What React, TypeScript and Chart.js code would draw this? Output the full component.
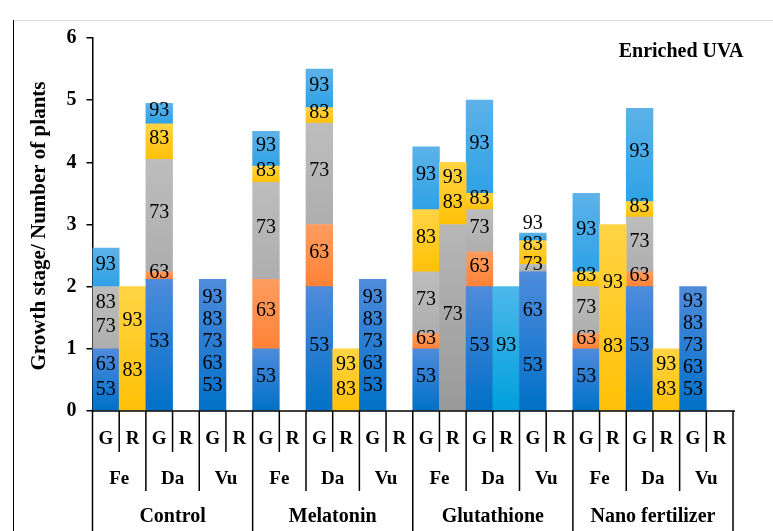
import React, { useEffect, useRef } from "react";
import { Chart, registerables } from "chart.js";
Chart.register(...registerables);

const treatments = ["Control", "Melatonin", "Glutathione", "Nano fertilizer"];
const cultivars = ["Fe", "Da", "Vu"];
const organs = ["G", "R"];
const categories = treatments.flatMap((t) => cultivars.flatMap((c) => organs.map((o) => `${t} ${c} ${o}`)));
const yTickMax = 6;
const yTitle = "Growth stage/ Number of plants";
const chartNote = "Enriched UVA";

// Stacked layers (bottom → top). Each layer: heights, colour key, stage labels (bottom → top).
const layer1Values = [1.0, 2.0, 2.12, 0, 2.12, 0, 1.0, 0, 2.0, 1.0, 2.12, 0, 1.0, 3.0, 2.0, 2.0, 2.24, 0, 1.0, 3.0, 2.0, 1.0, 2.0, 0];
const layer1Colors = ["blue", "yellow", "blue", "", "blue", "", "blue", "", "blue", "yellow", "blue", "", "blue", "dgray", "blue", "cyan", "blue", "", "blue", "yellow", "blue", "yellow", "blue", ""];
const layer1Labels = [[53, 63], [83, 93], [53], [], [53, 63, 73, 83, 93], [], [53], [], [53], [83, 93], [53, 63, 73, 83, 93], [], [53], [73], [53], [93], [53, 63], [], [53], [83, 93], [53], [83, 93], [53, 63, 73, 83, 93], []];

const layer2Values = [1.0, 0, 0.12, 0, 0, 0, 1.12, 0, 1.0, 0, 0, 0, 0.24, 1.0, 0.56, 0, 0.12, 0, 0.24, 0, 0.24, 0, 0, 0];
const layer2Colors = ["gray", "", "orange", "", "", "", "orange", "", "orange", "", "", "", "orange", "yellow", "orange", "", "gray", "", "orange", "", "orange", "", "", ""];
const layer2Labels = [[73, 83], [], [63], [], [], [], [63], [], [63], [], [], [], [63], [83, 93], [63], [], [73], [], [63], [], [63], [], [], []];

const layer3Values = [0.62, 0, 1.81, 0, 0, 0, 1.56, 0, 1.63, 0, 0, 0, 1.0, 0, 0.68, 0, 0.38, 0, 0.76, 0, 0.88, 0, 0, 0];
const layer3Colors = ["lblue", "", "gray", "", "", "", "gray", "", "gray", "", "", "", "gray", "", "gray", "", "yellow", "", "gray", "", "gray", "", "", ""];
const layer3Labels = [[93], [], [73], [], [], [], [73], [], [73], [], [], [], [73], [], [73], [], [83], [], [73], [], [73], [], [], []];

const layer4Values = [0, 0, 0.57, 0, 0, 0, 0.26, 0, 0.25, 0, 0, 0, 1.0, 0, 0.26, 0, 0.12, 0, 0.24, 0, 0.25, 0, 0, 0];
const layer4Colors = ["", "", "yellow", "", "", "", "yellow", "", "yellow", "", "", "", "yellow", "", "yellow", "", "lblue", "", "yellow", "", "yellow", "", "", ""];
const layer4Labels = [[], [], [83], [], [], [], [83], [], [83], [], [], [], [83], [], [83], [], [93], [], [83], [], [83], [], [], []];

const layer5Values = [0, 0, 0.33, 0, 0, 0, 0.56, 0, 0.62, 0, 0, 0, 1.01, 0, 1.5, 0, 0, 0, 1.26, 0, 1.5, 0, 0, 0];
const layer5Colors = ["", "", "lblue", "", "", "", "lblue", "", "lblue", "", "", "", "lblue", "", "lblue", "", "", "", "lblue", "", "lblue", "", "", ""];
const layer5Labels = [[], [], [93], [], [], [], [93], [], [93], [], [], [], [93], [], [93], [], [], [], [93], [], [93], [], [], []];

const layerValues = [layer1Values, layer2Values, layer3Values, layer4Values, layer5Values];
const layerColors = [layer1Colors, layer2Colors, layer3Colors, layer4Colors, layer5Colors];
const layerLabels = [layer1Labels, layer2Labels, layer3Labels, layer4Labels, layer5Labels];

const palette: Record<string, [string, string]> = {
  blue: ["#4F8BDB", "#0070C8"],
  orange: ["#FF9C60", "#FF8236"],
  gray: ["#BDBDBD", "#AEAEAE"],
  dgray: ["#B7B7B7", "#999999"],
  yellow: ["#FFD444", "#FFC107"],
  lblue: ["#5DB2E8", "#2EA2E6"],
  cyan: ["#4DB8EA", "#009FDD"],
};

const SERIF = '"Liberation Serif", "Times New Roman", serif';

const bases = layerValues.map((_, l) =>
  categories.map((__, i) => {
    let s = 0;
    for (let k = 0; k < l; k++) s += layerValues[k][i];
    return s;
  })
);

const overlay = {
  id: "overlay",
  afterDraw(chart: any) {
    const { ctx, chartArea } = chart;
    const x = chart.scales.x;
    const y = chart.scales.y;
    ctx.save();
    // frame
    ctx.lineWidth = 1;
    ctx.strokeStyle = "#d9d9d9";
    ctx.beginPath();
    ctx.moveTo(13, 20.5);
    ctx.lineTo(773, 20.5);
    ctx.stroke();
    ctx.strokeStyle = "#000";
    ctx.beginPath();
    ctx.moveTo(13.5, 20);
    ctx.lineTo(13.5, 531);
    ctx.stroke();

    // data labels
    ctx.fillStyle = "#000";
    ctx.font = `20px ${SERIF}`;
    ctx.textAlign = "center";
    ctx.textBaseline = "middle";
    categories.forEach((_, i) => {
      const items: { y: number; t: string }[] = [];
      for (let l = 0; l < layerValues.length; l++) {
        const v = layerValues[l][i];
        const labs = layerLabels[l][i];
        if (!(v > 0) || !labs.length) continue;
        const yb = y.getPixelForValue(bases[l][i]);
        const yt = y.getPixelForValue(bases[l][i] + v);
        const h = yb - yt;
        const n = labs.length;
        const c = (yb + yt) / 2 - 3;
        const sp = n > 1 ? Math.min(64, Math.max(22, (0.8 * h) / n)) : 0;
        labs.forEach((lab, k) => items.push({ y: c + ((n - 1) / 2 - k) * sp, t: String(lab) }));
      }
      for (let k = 1; k < items.length; k++) {
        if (items[k - 1].y - items[k].y < 20.5) items[k].y = items[k - 1].y - 20.5;
      }
      const cx = x.getPixelForValue(i);
      items.forEach((it) => ctx.fillText(it.t, cx, it.y));
    });

    // category table
    const left = chartArea.left;
    const right = chartArea.right;
    const bottom = chartArea.bottom;
    const w = (right - left) / categories.length;
    ctx.strokeStyle = "#000";
    ctx.lineWidth = 1.5;
    ctx.beginPath();
    ctx.moveTo(left, bottom);
    ctx.lineTo(right + 2, bottom);
    for (let i = 0; i <= categories.length; i++) {
      const xx = left + i * w;
      const yEnd = i % 6 === 0 ? 531 : i % 2 === 0 ? 491 : 452;
      ctx.moveTo(xx, bottom);
      ctx.lineTo(xx, yEnd);
    }
    ctx.stroke();

    ctx.font = `bold 19px ${SERIF}`;
    ctx.textBaseline = "middle";
    categories.forEach((_, i) => {
      ctx.fillText(organs[i % 2], left + (i + 0.5) * w, 439);
    });
    for (let j = 0; j < treatments.length * cultivars.length; j++) {
      ctx.fillText(cultivars[j % 3], left + (j + 0.5) * 2 * w, 479);
    }
    ctx.font = `bold 20px ${SERIF}`;
    treatments.forEach((t, j) => {
      ctx.fillText(t, left + (j + 0.5) * 6 * w, 517);
    });

    // note
    ctx.fillText(chartNote, 681, 52);

    // y title
    ctx.font = `bold 21px ${SERIF}`;
    ctx.save();
    ctx.translate(40, 226);
    ctx.rotate(-Math.PI / 2);
    ctx.fillText(yTitle, 0, 0);
    ctx.restore();
    ctx.restore();
  },
};

export default function App() {
  const ref = useRef<HTMLCanvasElement>(null);
  useEffect(() => {
    const datasets = layerValues.map((vals, l) => ({
      label: `layer ${l + 1}`,
      data: vals,
      borderWidth: 0,
      barPercentage: 1,
      categoryPercentage: 1,
      backgroundColor: (c: any) => {
        const i = c.dataIndex;
        if (i == null) return "transparent";
        const key = layerColors[l][i];
        if (!key) return "transparent";
        const [top, bot] = palette[key];
        const ys = c.chart.scales?.y;
        if (!ys) return bot;
        const y0 = ys.getPixelForValue(bases[l][i]);
        const y1 = ys.getPixelForValue(bases[l][i] + vals[i]);
        if (!isFinite(y0) || !isFinite(y1) || y0 === y1) return bot;
        const g = c.chart.ctx.createLinearGradient(0, y1, 0, y0);
        g.addColorStop(0, top);
        g.addColorStop(1, bot);
        return g;
      },
    }));
    const chart = new Chart(ref.current!, {
      type: "bar",
      data: { labels: categories, datasets },
      options: {
        responsive: false,
        animation: false,
        layout: { padding: { left: 0, top: 38, right: 40, bottom: 120 } },
        plugins: { legend: { display: false }, tooltip: { enabled: false } },
        scales: {
          x: { stacked: true, display: false },
          y: {
            stacked: true,
            min: 0,
            max: yTickMax,
            afterFit: (s: any) => {
              s.width = 92.5;
            },
            ticks: {
              stepSize: 1,
              padding: 10,
              color: "#000",
              font: { family: SERIF, size: 20, weight: "bold" },
            },
            grid: { display: true, drawOnChartArea: false, drawTicks: true, tickLength: 6, color: "#000", lineWidth: 1.5 },
            border: { display: true, color: "#000", width: 1.5 },
          },
        },
      },
      plugins: [overlay],
    } as any);
    return () => chart.destroy();
  }, []);
  return (
    <div style={{ position: "absolute", left: 0, top: 0, width: 773, height: 531, background: "#fff" }}>
      <canvas ref={ref} width={773} height={531} style={{ width: 773, height: 531, display: "block" }} />
    </div>
  );
}
